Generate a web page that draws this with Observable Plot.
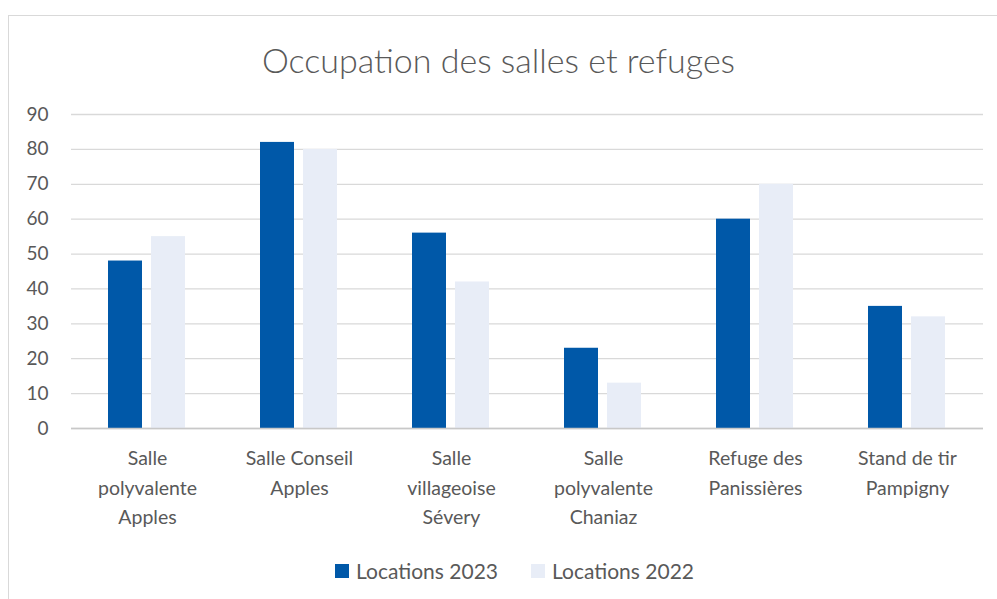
<!DOCTYPE html>
<html><head><meta charset="utf-8">
<script src="https://cdn.jsdelivr.net/npm/d3@7"></script>
<script src="https://cdn.jsdelivr.net/npm/@observablehq/plot@0.6"></script>
<style>
html,body{margin:0;padding:0;background:#fff;overflow:hidden;width:997px;height:599px;}
body{font-family:Lato,"Open Sans",sans-serif;color:#595959;}
#frame{position:absolute;left:8px;top:15px;width:1100px;height:700px;border:1.5px solid #d9d9d9;box-sizing:border-box;}
#title{position:absolute;left:0;width:997px;top:39px;text-align:center;font-size:34px;font-weight:300;line-height:42px;color:#595959;}
#chart{position:absolute;left:0;top:90px;}
#legend{position:absolute;left:0;width:997px;top:557px;display:flex;justify-content:center;gap:33px;font-size:21px;line-height:28px;color:#595959;margin-left:16px;}
.item{display:flex;align-items:center;gap:7px;}
.sw{display:inline-block;width:14px;height:14px;}
</style></head>
<body>
<div id="frame"></div>
<div id="title">Occupation des salles et refuges</div>
<div id="chart"></div>
<div id="legend"></div>
<script>
const categories = ["Salle polyvalente Apples","Salle Conseil Apples","Salle villageoise Sévery","Salle polyvalente Chaniaz","Refuge des Panissières","Stand de tir Pampigny"];
const categoryLabels = ["Salle\npolyvalente\nApples","Salle Conseil\nApples","Salle\nvillageoise\nSévery","Salle\npolyvalente\nChaniaz","Refuge des\nPanissières","Stand de tir\nPampigny"];
const series = ["Locations 2023","Locations 2022"];
const values2023 = [48,82,56,23,60,35];
const values2022 = [55,80,42,13,70,32];
const yTicks = [0,10,20,30,40,50,60,70,80,90];
const colors = ["#0058a8","#e8edf7"];

const data = [];
categories.forEach((c,i)=>{
  data.push({category:c, series:series[0], value:values2023[i]});
  data.push({category:c, series:series[1], value:values2022[i]});
});

const chart = Plot.plot({
  width: 997, height: 440,
  marginLeft: 71, marginRight: 14, marginTop: 24, marginBottom: 102,
  style: {fontFamily: 'Lato,"Open Sans",sans-serif', fontSize: "19px", color: "#595959", background: "transparent", overflow: "visible"},
  fx: {domain: categories, padding: 0, label: null, axis: null},
  x: {domain: series, paddingInner: 0.209, paddingOuter: 0.869, axis: null},
  y: {domain: [0, 90], label: null, axis: null},
  color: {domain: series, range: colors},
  marks: [
    Plot.gridY(yTicks, {stroke: "#d9d9d9", strokeOpacity: 1, strokeWidth: 1.3}),
    Plot.axisY(yTicks, {anchor: "left", tickSize: 0, tickPadding: 23, fontSize: 19, label: null, fill: "#595959"}),
    Plot.axisFx({anchor: "bottom", tickSize: 0, tickPadding: 16, fontSize: 19.5, lineHeight: 1.5, label: null, fill: "#595959",
      tickFormat: d => categoryLabels[categories.indexOf(d)]}),
    Plot.barY(data, {fx: "category", x: "series", y: "value", fill: "series"}),
    Plot.ruleY([0], {stroke: "#c8c8c8", strokeWidth: 1.5})
  ]
});
document.getElementById("chart").appendChild(chart);

const legend = document.getElementById("legend");
series.forEach((s,i)=>{
  const it = document.createElement("div"); it.className="item";
  const sw = document.createElement("span"); sw.className="sw"; sw.style.background=colors[i];
  const tx = document.createElement("span"); tx.textContent = s;
  it.appendChild(sw); it.appendChild(tx); legend.appendChild(it);
});
</script>
</body></html>
